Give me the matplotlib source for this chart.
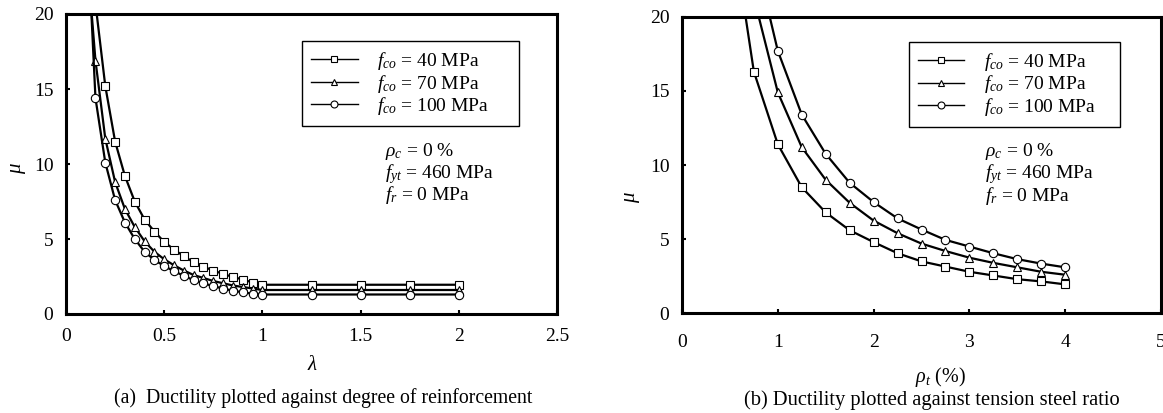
import matplotlib
matplotlib.use("Agg")
import matplotlib.pyplot as plt
from matplotlib.lines import Line2D

plt.rcParams['font.family'] = ['Liberation Serif', 'DejaVu Serif']
plt.rcParams['mathtext.fontset'] = 'custom'
plt.rcParams['mathtext.rm'] = 'Liberation Serif'
plt.rcParams['mathtext.it'] = 'Liberation Serif:italic'
plt.rcParams['font.size'] = 14

# (a) ductility vs degree of reinforcement
lam_40 = [0.15, 0.2, 0.25, 0.3, 0.35, 0.4, 0.45, 0.5, 0.55, 0.6, 0.65, 0.7, 0.75,
          0.8, 0.85, 0.9, 0.95, 1.0, 1.25, 1.5, 1.75, 2.0]
mu_a_40 = [20.7, 15.2, 11.5, 9.2, 7.5, 6.3, 5.5, 4.8, 4.3, 3.85, 3.45, 3.15, 2.9,
           2.67, 2.47, 2.3, 2.1, 1.95, 1.95, 1.95, 1.95, 1.95]
lam_70 = [0.1, 0.15, 0.2, 0.25, 0.3, 0.35, 0.4, 0.45, 0.5, 0.55, 0.6, 0.65, 0.7, 0.75,
          0.8, 0.85, 0.9, 0.95, 1.0, 1.25, 1.5, 1.75, 2.0]
mu_a_70 = [25.0, 16.9, 11.7, 8.8, 7.0, 5.8, 4.85, 4.15, 3.65, 3.25, 2.9, 2.6, 2.4, 2.2,
           2.05, 1.9, 1.8, 1.7, 1.6, 1.6, 1.6, 1.6, 1.6]
lam_100 = lam_70
mu_a_100 = [28.0, 14.4, 10.1, 7.6, 6.1, 5.0, 4.15, 3.6, 3.2, 2.85, 2.55, 2.25, 2.05, 1.85,
            1.7, 1.55, 1.45, 1.35, 1.3, 1.3, 1.3, 1.3, 1.3]

# (b) ductility vs tension steel ratio
rho_40 = [0.5, 0.75, 1.0, 1.25, 1.5, 1.75, 2.0, 2.25, 2.5, 2.75, 3.0, 3.25, 3.5, 3.75, 4.0]
mu_b_40 = [27.0, 16.3, 11.4, 8.5, 6.8, 5.6, 4.8, 4.05, 3.5, 3.15, 2.8, 2.55, 2.3, 2.15, 1.95]
rho_70 = [0.75, 1.0, 1.25, 1.5, 1.75, 2.0, 2.25, 2.5, 2.75, 3.0, 3.25, 3.5, 3.75, 4.0]
mu_b_70 = [21.3, 14.9, 11.2, 9.0, 7.45, 6.25, 5.4, 4.7, 4.2, 3.75, 3.4, 3.1, 2.8, 2.6]
rho_100 = rho_70
mu_b_100 = [24.5, 17.7, 13.4, 10.75, 8.8, 7.5, 6.4, 5.65, 4.95, 4.5, 4.05, 3.65, 3.35, 3.1]

series_labels = [r'$f_{co}$ = 40 MPa', r'$f_{co}$ = 70 MPa', r'$f_{co}$ = 100 MPa']
markers = ['s', '^', 'o']
note_lines = [r'$\rho_c$ = 0 %', r'$f_{yt}$ = 460 MPa', r'$f_r$ = 0 MPa']

W, H = 1163, 413
fig = plt.figure(figsize=(W / 100, H / 100), dpi=100)


def px_axes(x0, y0, x1, y1):
    return fig.add_axes([x0 / W, 1 - y1 / H, (x1 - x0) / W, (y1 - y0) / H])


def style_axes(ax, xpad):
    for s in ax.spines.values():
        s.set_linewidth(2.2)
    ax.tick_params(direction='in', length=3, width=1.5, labelsize=14)
    ax.tick_params(axis='y', pad=9)
    ax.tick_params(axis='x', pad=xpad)
    ax.set_ylim(0, 20)
    ax.set_yticks([0, 5, 10, 15, 20])


def draw_series(ax, xs, ys):
    for x, y, m in zip(xs, ys, markers):
        size = 6.3 if m == 's' else (5.2 if m == '^' else 6.0)
        ax.plot(x, y, color='black', lw=1.6, marker=m, ms=size,
                mfc='white', mec='black', mew=0.8)


def add_legend(ax, box):
    handles = [Line2D([], [], color='black', lw=1.0, marker=m,
                      ms=(5 if m != '^' else 4.2), mfc='white', mec='black', mew=0.8)
               for m in markers]
    leg = ax.legend(handles, series_labels, loc='upper left', bbox_to_anchor=box,
                    mode='expand', borderaxespad=0, frameon=True, fancybox=False,
                    framealpha=1, edgecolor='black', handlelength=2.4,
                    handletextpad=1.0, labelspacing=0.04, borderpad=0.45, fontsize=14)
    leg.get_frame().set_linewidth(1.0)


def add_notes(ax, x, ytop, step):
    for i, t in enumerate(note_lines):
        ax.text(x, ytop - i * step, t, transform=ax.transAxes, fontsize=14,
                va='center', ha='left')


# left panel
ax1 = px_axes(66, 14, 557, 314)
draw_series(ax1, [lam_40, lam_70, lam_100], [mu_a_40, mu_a_70, mu_a_100])
ax1.set_xlim(0, 2.5)
ax1.set_xticks([0, 0.5, 1, 1.5, 2, 2.5])
ax1.set_xticklabels(['0', '0.5', '1', '1.5', '2', '2.5'])
style_axes(ax1, 10)
add_legend(ax1, (0.481, 0.623, 0.442, 0.287))
add_notes(ax1, 0.65, 0.54, 0.072)
fig.text(19 / W, 1 - 168 / H, r'$\mu$', rotation=90, ha='center', va='center', fontsize=15)
fig.text(313 / W, 1 - 365 / H, r'$\lambda$', ha='center', va='center', fontsize=15)
fig.text(323 / W, 1 - 398 / H, '(a)  Ductility plotted against degree of reinforcement',
         ha='center', va='center', fontsize=14.2)

# right panel
ax2 = px_axes(682, 16.7, 1161, 313.3)
draw_series(ax2, [rho_40, rho_70, rho_100], [mu_b_40, mu_b_70, mu_b_100])
ax2.set_xlim(0, 5)
ax2.set_xticks([0, 1, 2, 3, 4, 5])
style_axes(ax2, 15)
add_legend(ax2, (0.474, 0.629, 0.44, 0.286))
add_notes(ax2, 0.633, 0.544, 0.074)
fig.text(632 / W, 1 - 197 / H, r'$\mu$', rotation=90, ha='center', va='center', fontsize=15)
fig.text(940 / W, 1 - 377 / H, r'$\rho_t$ (%)', ha='center', va='center', fontsize=14.5)
fig.text(932 / W, 1 - 400 / H, '(b) Ductility plotted against tension steel ratio',
         ha='center', va='center', fontsize=14.8)

fig.savefig('out.png', dpi=100)
